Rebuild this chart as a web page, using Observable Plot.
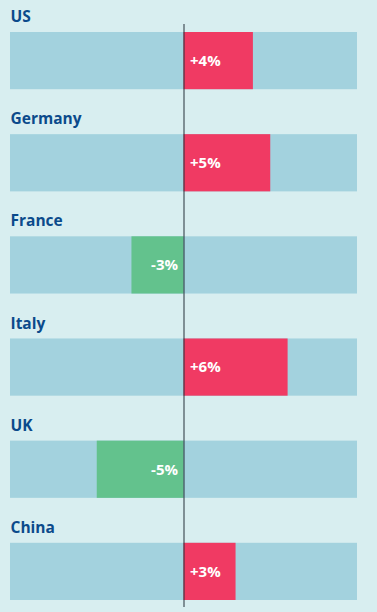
<!DOCTYPE html>
<html>
<head>
<meta charset="utf-8">
<script src="https://cdn.jsdelivr.net/npm/d3@7"></script>
<script src="https://cdn.jsdelivr.net/npm/@observablehq/plot@0.6"></script>
<style>
  html, body { margin: 0; padding: 0; background: #d8eef0; }
  #chart svg { display: block; }
</style>
</head>
<body>
<div id="chart"></div>
<script>
const countries = ["US", "Germany", "France", "Italy", "UK", "China"];
const changes = [4, 5, -3, 6, -5, 3];
const labels = ["+4%", "+5%", "-3%", "+6%", "-5%", "+3%"];
const trackMin = -10;
const trackMax = 10;

const data = countries.map((c, i) => ({country: c, value: changes[i], label: labels[i]}));
const pos = data.filter(d => d.value >= 0);
const neg = data.filter(d => d.value < 0);

const chart = Plot.plot({
  width: 377,
  height: 612,
  marginLeft: 10,
  marginRight: 20,
  marginTop: 32,
  marginBottom: 12,
  style: {background: "#d8eef0", fontFamily: "'Open Sans', sans-serif"},
  x: {domain: [trackMin, trackMax], axis: null},
  y: {domain: countries, paddingInner: 0.44, paddingOuter: 0, align: 0, round: false, axis: null},
  marks: [
    Plot.barX(data, {y: "country", x1: trackMin, x2: trackMax, fill: "#a3d2de"}),
    Plot.barX(data, {y: "country", x1: 0, x2: "value", fill: d => d.value >= 0 ? "#f03a63" : "#63c28d"}),
    Plot.text(pos, {y: "country", x: 0, text: "label", textAnchor: "start", dx: 6, fill: "white", fontWeight: "bold", fontSize: 15}),
    Plot.text(neg, {y: "country", x: 0, text: "label", textAnchor: "end", dx: -6, fill: "white", fontWeight: "bold", fontSize: 15}),
    Plot.text(data, {y: "country", frameAnchor: "left", text: "country", textAnchor: "start", dy: -44, fill: "#0b4a8b", fontWeight: "bold", fontSize: 15.5}),
    Plot.ruleX([0], {stroke: "#26313b", strokeWidth: 1, insetTop: -8, insetBottom: -7})
  ]
});
document.getElementById("chart").append(chart);
</script>
</body>
</html>
